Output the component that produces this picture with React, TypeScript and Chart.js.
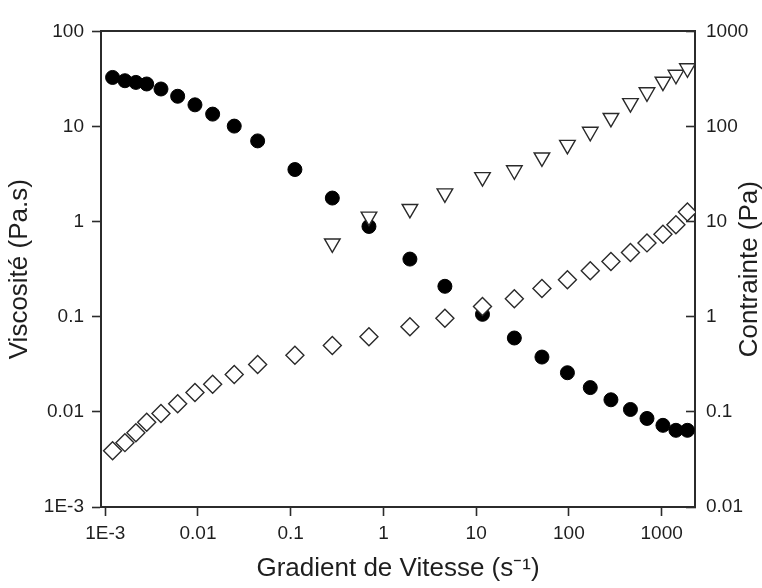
import { useEffect, useRef } from 'react';
import { Chart, registerables } from 'chart.js';

Chart.register(...registerables);

// Shear rate (s^-1) for the viscosity / stress sweep
const shearRate = [
  0.0012, 0.00163, 0.00214, 0.0028, 0.00399, 0.00604, 0.00928, 0.0144, 0.0246, 0.044,
  0.111, 0.281, 0.698, 1.93, 4.6, 11.7, 25.8, 51.2, 96.4, 170, 284, 461, 695, 1033, 1426, 1897,
];
// Viscosity (Pa.s), filled circles, left axis
const viscosity = [
  32.8, 30.3, 29.1, 28.0, 24.8, 20.8, 16.9, 13.5, 10.1, 7.06,
  3.53, 1.77, 0.89, 0.404, 0.209, 0.106, 0.0598, 0.0377, 0.0258, 0.018, 0.0134, 0.0106,
  0.00853, 0.00722, 0.0064, 0.0064,
];
// Stress (Pa), open diamonds, right axis
const stressDiamond = [
  0.039, 0.0475, 0.0604, 0.078, 0.096, 0.122, 0.16, 0.195, 0.247, 0.314,
  0.393, 0.499, 0.618, 0.785, 0.964, 1.28, 1.55, 1.98, 2.45, 3.04, 3.8, 4.75,
  5.98, 7.35, 9.27, 12.6,
];
// Stress (Pa), open down-triangles, right axis
const triangleRate = [
  0.281, 0.698, 1.93, 4.6, 11.7, 25.8, 51.2, 96.4, 170, 284, 461, 695, 1033, 1426, 1897,
];
const stressTriangle = [
  5.9, 11.3, 13.6, 19.8, 29.4, 34.7, 47.3, 64.1, 88, 123, 176, 229, 296, 350, 410,
];

const xTickValues = [0.001, 0.01, 0.1, 1, 10, 100, 1000];
const xTickLabels = ['1E-3', '0.01', '0.1', '1', '10', '100', '1000'];
const yLeftTickValues = [0.001, 0.01, 0.1, 1, 10, 100];
const yLeftTickLabels = ['1E-3', '0.01', '0.1', '1', '10', '100'];
const yRightTickValues = [0.01, 0.1, 1, 10, 100, 1000];
const yRightTickLabels = ['0.01', '0.1', '1', '10', '100', '1000'];

const xTitle = 'Gradient de Vitesse (s\u207B\u00B9)';
const yLeftTitle = 'Viscosité (Pa.s)';
const yRightTitle = 'Contrainte (Pa)';

const X_MIN = 9e-4;
const X_MAX = 2290;

export default function App() {
  const canvasRef = useRef<HTMLCanvasElement | null>(null);

  useEffect(() => {
    document.body.style.margin = '0';
    const canvas = canvasRef.current;
    if (!canvas) return;

    const axisColor = '#2b2b2b';
    const textColor = '#1e1e1e';
    const family = '"Liberation Sans", Arial, sans-serif';

    // Right-axis title reads bottom-to-top like the left one
    const rightTitlePlugin = {
      id: 'rightTitle',
      afterDraw(c: any) {
        const s = c.scales.y2;
        const ctx = c.ctx;
        ctx.save();
        ctx.fillStyle = textColor;
        ctx.font = `26px ${family}`;
        ctx.translate(s.right - 5, (s.top + s.bottom) / 2);
        ctx.rotate(-Math.PI / 2);
        ctx.textAlign = 'center';
        ctx.textBaseline = 'alphabetic';
        ctx.fillText(yRightTitle, 0, 0);
        ctx.restore();
      },
    };

    const chart = new Chart(canvas, {
      type: 'scatter',
      data: {
        datasets: [
          {
            label: 'Contrainte (triangles)',
            data: triangleRate.map((x, i) => ({ x, y: stressTriangle[i] })),
            yAxisID: 'y2',
            xAxisID: 'x',
            pointStyle: 'triangle',
            rotation: 180,
            pointRadius: 9,
            pointBorderWidth: 1.4,
            backgroundColor: '#ffffff',
            borderColor: '#2a2a2a',
            order: 1,
          },
          {
            label: 'Contrainte',
            data: shearRate.map((x, i) => ({ x, y: stressDiamond[i] })),
            yAxisID: 'y2',
            xAxisID: 'x',
            pointStyle: 'rectRot',
            pointRadius: 9,
            pointBorderWidth: 1.4,
            backgroundColor: '#ffffff',
            borderColor: '#2a2a2a',
            order: 2,
          },
          {
            label: 'Viscosité',
            data: shearRate.map((x, i) => ({ x, y: viscosity[i] })),
            yAxisID: 'y',
            xAxisID: 'x',
            pointStyle: 'circle',
            pointRadius: 7,
            pointBorderWidth: 1,
            backgroundColor: '#000000',
            borderColor: '#000000',
            order: 3,
          },
        ],
      },
      options: {
        animation: false,
        responsive: false,
        layout: { padding: 0 },
        plugins: {
          legend: { display: false },
          tooltip: { enabled: false },
          title: { display: false },
        },
        scales: {
          x: {
            type: 'logarithmic',
            position: 'bottom',
            min: X_MIN,
            max: X_MAX,
            afterBuildTicks: (scale: any) => {
              scale.ticks = xTickValues.map((v) => ({ value: v }));
            },
            afterFit: (scale: any) => {
              scale.height = 81;
            },
            ticks: {
              autoSkip: false,
              maxRotation: 0,
              padding: 6,
              color: textColor,
              font: { family, size: 19 },
              callback: (_v: any, i: number) => xTickLabels[i],
            },
            grid: {
              display: true,
              drawOnChartArea: false,
              drawTicks: true,
              tickLength: 9,
              tickWidth: 1.6,
              tickColor: axisColor,
            },
            border: { display: true, color: axisColor, width: 2 },
            title: {
              display: true,
              text: xTitle,
              color: textColor,
              font: { family, size: 26, lineHeight: 1.2 },
              padding: { top: 0, bottom: 4 },
            },
          },
          xTop: {
            type: 'logarithmic',
            position: 'top',
            min: X_MIN,
            max: X_MAX,
            afterBuildTicks: (scale: any) => {
              scale.ticks = xTickValues.map((v) => ({ value: v }));
            },
            afterFit: (scale: any) => {
              scale.height = 25;
            },
            ticks: { display: false },
            grid: { display: false, drawTicks: false },
            border: { display: true, color: axisColor, width: 2 },
          },
          y: {
            type: 'logarithmic',
            position: 'left',
            min: 0.001,
            max: 100,
            afterBuildTicks: (scale: any) => {
              scale.ticks = yLeftTickValues.map((v) => ({ value: v }));
            },
            afterFit: (scale: any) => {
              scale.width = 101;
            },
            ticks: {
              autoSkip: false,
              padding: 8,
              color: textColor,
              font: { family, size: 19 },
              callback: (_v: any, i: number) => yLeftTickLabels[i],
            },
            grid: {
              display: true,
              drawOnChartArea: false,
              drawTicks: true,
              tickLength: 9,
              tickWidth: 1.6,
              tickColor: axisColor,
            },
            border: { display: true, color: axisColor, width: 2 },
            title: {
              display: true,
              text: yLeftTitle,
              color: textColor,
              font: { family, size: 26, lineHeight: 1 },
              padding: { top: 7, bottom: 0 },
            },
          },
          y2: {
            type: 'logarithmic',
            position: 'right',
            min: 0.01,
            max: 1000,
            afterBuildTicks: (scale: any) => {
              scale.ticks = yRightTickValues.map((v) => ({ value: v }));
            },
            afterFit: (scale: any) => {
              scale.width = 67;
            },
            ticks: {
              autoSkip: false,
              padding: 20,
              color: textColor,
              font: { family, size: 19 },
              callback: (_v: any, i: number) => yRightTickLabels[i],
            },
            grid: {
              display: true,
              drawOnChartArea: false,
              drawTicks: true,
              tickLength: -9,
              tickWidth: 1.6,
              tickColor: axisColor,
            },
            border: { display: true, color: axisColor, width: 2 },
            title: { display: false, text: yRightTitle },
          },
        },
      },
      plugins: [rightTitlePlugin],
    });

    return () => {
      chart.destroy();
    };
  }, []);

  return (
    <div style={{ width: 762, height: 588, background: '#ffffff' }}>
      <canvas ref={canvasRef} width={762} height={588} style={{ display: 'block' }} />
    </div>
  );
}
